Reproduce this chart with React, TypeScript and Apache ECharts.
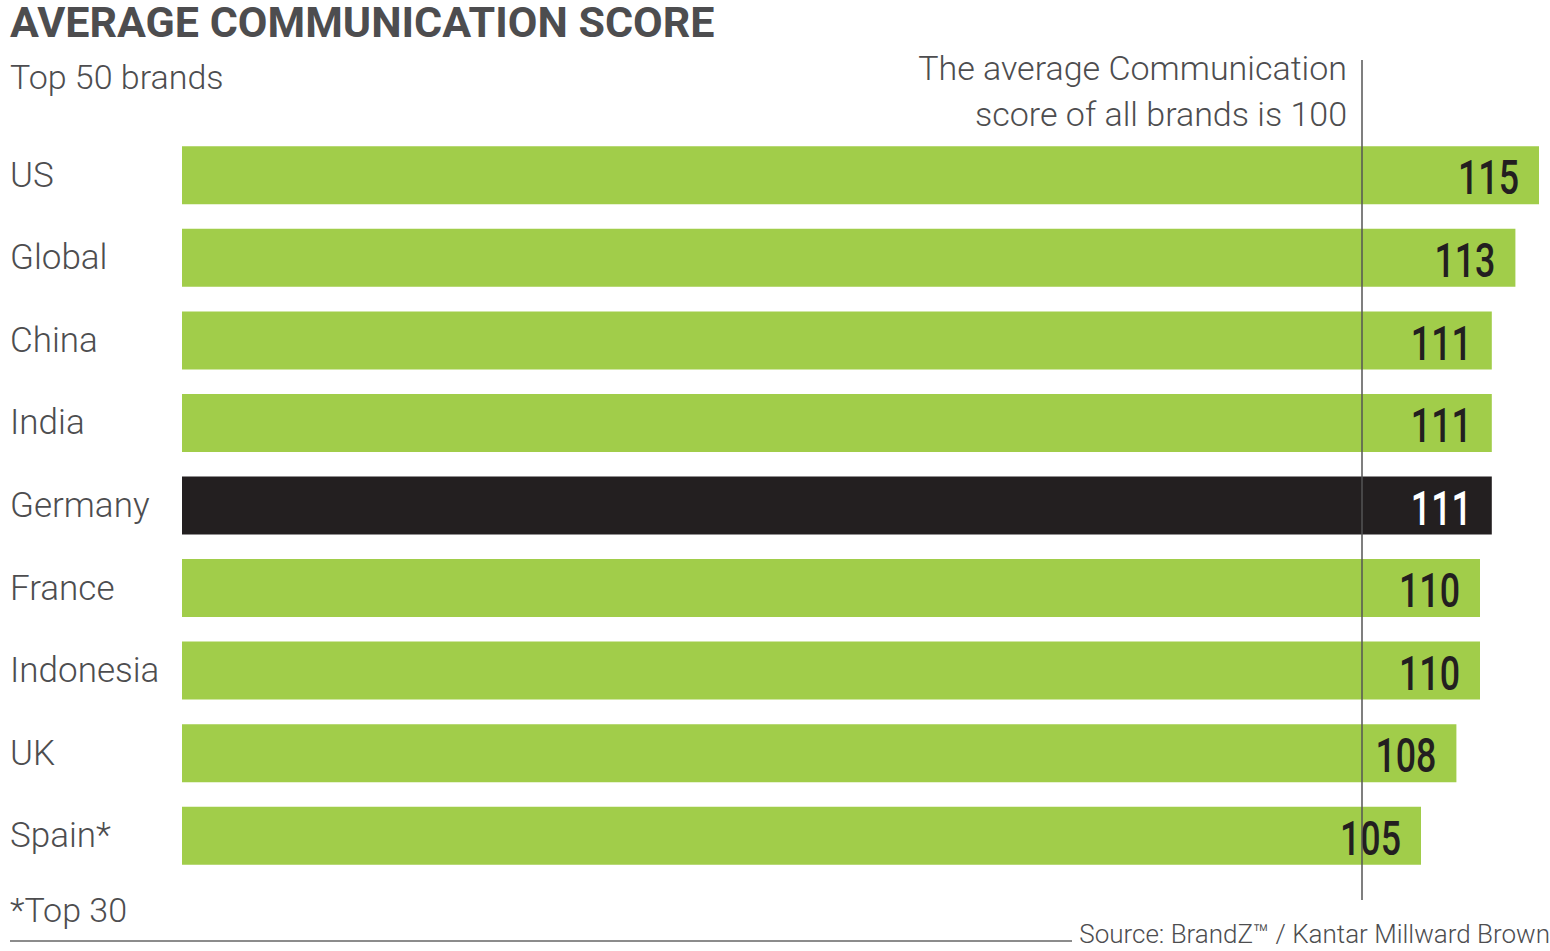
import React, { useEffect, useRef } from "react";
import * as echarts from "echarts";

const categories = ["US", "Global", "China", "India", "Germany", "France", "Indonesia", "UK", "Spain*"];
const scores = [115, 113, 111, 111, 111, 110, 110, 108, 105];
const highlighted = "Germany";
const averageScore = 100;

const titleText = "AVERAGE COMMUNICATION SCORE";
const subtitleText = "Top 50 brands";
const noteLines = ["The average Communication", "score of all brands is 100"];
const footnoteText = "*Top 30";
const sourceText = "Source: BrandZ™ / Kantar Millward Brown";

const GREEN = "#a1cd4a";
const DARK = "#231f20";
const GRAY = "#4d4d4f";
const FONT = "Roboto, 'Noto Sans', sans-serif";

export default function App() {
  const ref = useRef<HTMLDivElement>(null);
  useEffect(() => {
    if (!ref.current) return;
    const chart = echarts.init(ref.current, undefined, { renderer: "svg" });
    chart.setOption({
      animation: false,
      backgroundColor: "#ffffff",
      grid: { left: 182, right: 11, top: 134, height: 743, containLabel: false },
      xAxis: {
        type: "value",
        min: 0,
        max: 115,
        show: false,
      },
      yAxis: {
        type: "category",
        data: categories,
        inverse: true,
        axisLine: { show: false },
        axisTick: { show: false },
        axisLabel: {
          align: "left",
          margin: 172,
          fontFamily: FONT,
          fontWeight: 300,
          fontSize: 35,
          color: GRAY,
        },
      },
      series: [
        {
          type: "bar",
          barWidth: 58,
          data: scores.map((v, i) => ({
            value: v,
            itemStyle: { color: categories[i] === highlighted ? DARK : GREEN },
          })),
        },
        {
          type: "custom",
          z: 10,
          data: scores.map((v, i) => [v, i]),
          encode: { x: 0, y: 1 },
          renderItem: (params: any, api: any) => {
            const v = api.value(0);
            const idx = api.value(1);
            const pt = api.coord([v, idx]);
            return {
              type: "text",
              x: pt[0] - 20,
              y: pt[1] + 2,
              scaleX: 0.73,
              style: {
                text: String(v),
                font: `500 49px ${FONT}`,
                fill: categories[idx] === highlighted ? "#ffffff" : DARK,
                align: "right",
                verticalAlign: "middle",
              },
            };
          },
        },
      ],
    });
    const xAvg = chart.convertToPixel({ xAxisIndex: 0 }, averageScore) as number;
    chart.setOption({
      graphic: [
        {
          type: "text",
          x: 10,
          y: 0,
          style: { text: titleText, font: `bold 43px ${FONT}`, fill: GRAY, lineHeight: 44, verticalAlign: "top" },
        },
        {
          type: "text",
          x: 10,
          y: 77,
          style: { text: subtitleText, font: `300 34px ${FONT}`, fill: GRAY, verticalAlign: "middle" },
        },
        {
          type: "text",
          x: 1347,
          y: 68,
          style: { text: noteLines[0], font: `300 34px ${FONT}`, fill: GRAY, align: "right", verticalAlign: "middle" },
        },
        {
          type: "text",
          x: 1347,
          y: 114,
          style: { text: noteLines[1], font: `300 34px ${FONT}`, fill: GRAY, align: "right", verticalAlign: "middle" },
        },
        {
          type: "text",
          x: 10,
          y: 910,
          style: { text: footnoteText, font: `300 34px ${FONT}`, fill: GRAY, verticalAlign: "middle" },
        },
        {
          type: "text",
          x: 1550,
          y: 934,
          style: { text: sourceText, font: `300 26px ${FONT}`, fill: GRAY, align: "right", verticalAlign: "middle" },
        },
        {
          type: "line",
          shape: { x1: 10, y1: 941, x2: 1072, y2: 941 },
          style: { stroke: "#666666", lineWidth: 1.5 },
        },
        {
          type: "line",
          z: 100,
          shape: { x1: xAvg, y1: 60, x2: xAvg, y2: 900 },
          style: { stroke: "#555555", lineWidth: 1.5 },
        },
      ],
    });
    return () => chart.dispose();
  }, []);
  return <div ref={ref} style={{ position: "absolute", left: 0, top: 0, width: 1550, height: 951 }} />;
}
